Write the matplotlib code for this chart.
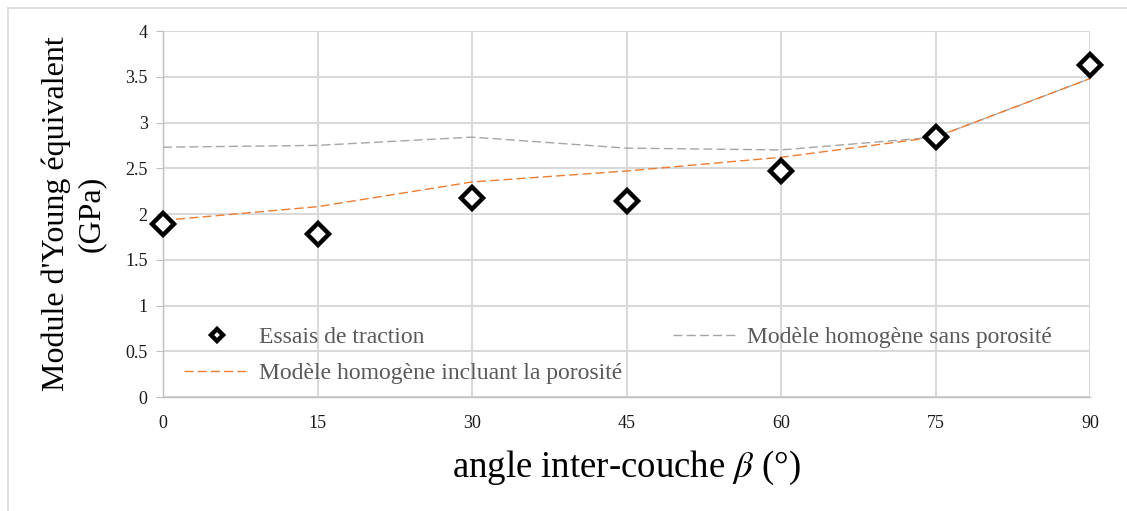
import matplotlib
matplotlib.use("Agg")
import matplotlib.pyplot as plt
from matplotlib.lines import Line2D

# Inter-layer angle (degrees) and equivalent Young's modulus (GPa)
beta = [0, 15, 30, 45, 60, 75, 90]
essais_traction = [1.89, 1.78, 2.18, 2.14, 2.47, 2.84, 3.63]
modele_sans_porosite = [2.73, 2.75, 2.84, 2.72, 2.70, 2.84, 3.48]
modele_avec_porosite = [1.93, 2.08, 2.35, 2.47, 2.62, 2.84, 3.48]

x_ticks = [0, 15, 30, 45, 60, 75, 90]
y_ticks = [0, 0.5, 1, 1.5, 2, 2.5, 3, 3.5, 4]
y_tick_labels = ["0", "0.5", "1", "1.5", "2", "2.5", "3", "3.5", "4"]

plt.rcParams["font.family"] = ["Liberation Serif", "DejaVu Serif"]
plt.rcParams["mathtext.fontset"] = "stix"

fig = plt.figure(figsize=(11.27, 5.11), dpi=100)

# Chart-area frame (top and left edges visible)
frame_x = 8 / 1127
frame_y = 1 - 8 / 511
fig.lines.append(Line2D([frame_x, frame_x], [0, frame_y], transform=fig.transFigure,
                        color="#D9D9D9", linewidth=1.2))
fig.lines.append(Line2D([frame_x, 1], [frame_y, frame_y], transform=fig.transFigure,
                        color="#D9D9D9", linewidth=1.2))

ax = fig.add_axes([163 / 1127, 1 - 397 / 511, (1090 - 163) / 1127, (397 - 31) / 511])

grid_color = "#D9D9D9"
for s in ["top", "right"]:
    ax.spines[s].set_visible(False)
for s in ["left", "bottom"]:
    ax.spines[s].set_color("#BFBFBF")
    ax.spines[s].set_linewidth(1.0)

ax.set_xlim(0, 90)
ax.set_ylim(0, 4)
ax.set_xticks(x_ticks)
ax.set_yticks(y_ticks)
ax.set_yticklabels(y_tick_labels)
ax.grid(True, color=grid_color, linewidth=1.5)
ax.set_axisbelow(True)
ax.tick_params(axis="y", length=5, color="#BFBFBF", labelsize=13, pad=6)
ax.tick_params(axis="x", length=0, labelsize=13, pad=13)
for lbl in ax.get_xticklabels() + ax.get_yticklabels():
    lbl.set_color("#1a1a1a")

l_sans, = ax.plot(beta, modele_sans_porosite, color="#A5A5A5", lw=1.0,
                  linestyle=(0, (6.5, 3)), label="Modèle homogène sans porosité",
                  clip_on=False, zorder=3)
l_avec, = ax.plot(beta, modele_avec_porosite, color="#ED7D31", lw=1.0,
                  linestyle=(0, (6.5, 3)), label="Modèle homogène incluant la porosité",
                  clip_on=False, zorder=4)
l_ess, = ax.plot(beta, essais_traction, linestyle="none", marker="D",
                 markersize=11, markerfacecolor="white", markeredgecolor="black",
                 markeredgewidth=3.2, label="Essais de traction",
                 clip_on=False, zorder=5)

leg = ax.legend(handles=[l_ess, l_avec, l_sans], ncol=2, loc="lower left",
                bbox_to_anchor=(0.0, -0.022), frameon=False, fontsize=17,
                handlelength=2.75, handletextpad=0.4, columnspacing=2.15,
                labelspacing=0.6, markerscale=0.6, borderpad=0.4)
for t in leg.get_texts():
    t.set_color("#595959")

ax.set_xlabel(r"angle inter-couche $\beta$ (°)", fontsize=26.5, labelpad=12)
ax.set_ylabel("Module d'Young équivalent\n(GPa)", fontsize=23, labelpad=14,
              linespacing=1.25)

fig.savefig("out.png", dpi=100)
